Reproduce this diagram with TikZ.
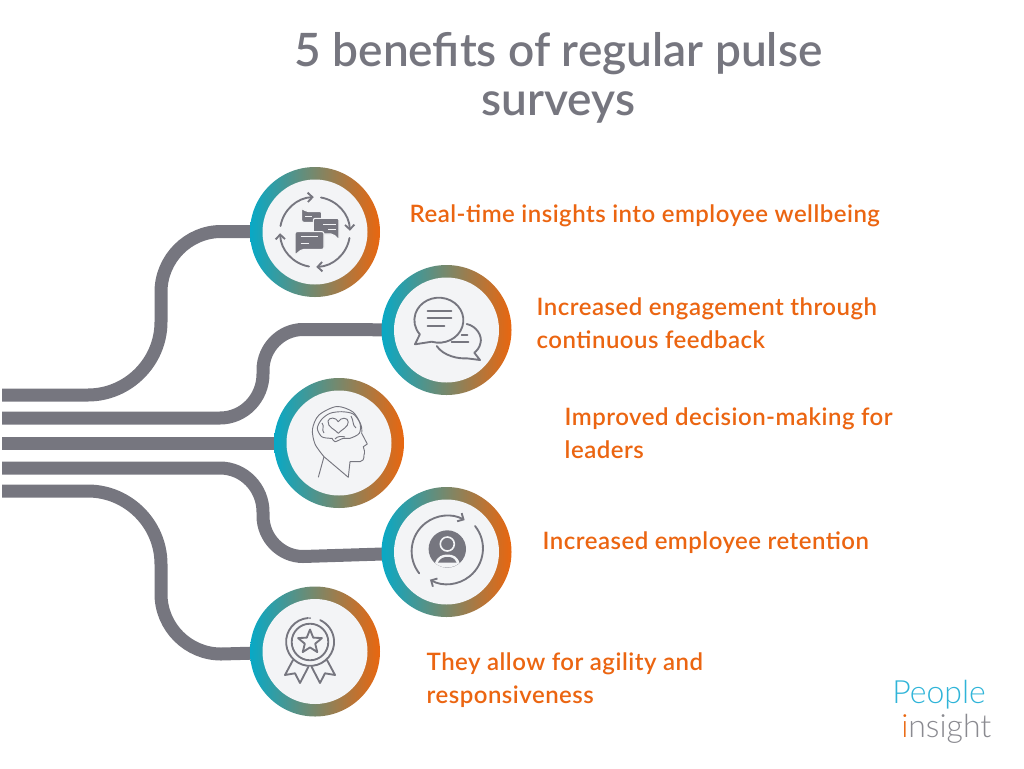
\documentclass[tikz,border=0pt]{standalone}
\usepackage{fontspec}
\usepackage{xcolor}
\usetikzlibrary{arrows.meta,backgrounds}
\setmainfont{Lato}
\newfontfamily\headfont{Lato Semibold}
\newfontfamily\bodyfont[LetterSpace=2]{Lato Semibold}
\newfontfamily\logofont{Lato Light}
\definecolor{pipegrey}{HTML}{76767F}
\definecolor{ringteal}{HTML}{08A9C6}
\definecolor{ringmid}{HTML}{7F8A66}
\definecolor{ringorange}{HTML}{E9660F}
\definecolor{hubgrey}{HTML}{F3F4F6}
\definecolor{labelorange}{HTML}{EB6511}
\definecolor{logoblue}{HTML}{2FB4D8}
\definecolor{logogrey}{HTML}{8A8A90}
\tikzset{
	ring/.style={circle,inner sep=0pt,minimum size=97.5pt,left color=ringteal,middle color=ringmid,right color=ringorange},
	hub/.style={circle,inner sep=0pt,minimum size=78.75pt,fill=hubgrey},
	pipe/.style={draw=pipegrey,line width=9.75pt},
	benefit/.style={anchor=west,align=left,text=labelorange,font=\fontsize{18}{24.75}\selectfont\bodyfont},
	iconline/.style={draw=pipegrey,line width=1.4pt,line cap=round,line join=round},
	iconthin/.style={draw=pipegrey,line width=0.7pt,line join=round},
	iconfill/.style={fill=pipegrey,draw=hubgrey,line width=0.8pt,rounded corners=1.5pt},
	iconcut/.style={draw=hubgrey,line width=1.1pt},
	cycletip/.style={-{Straight Barb[length=3.5pt,width=7pt]}}
}
\begin{document}
\begin{tikzpicture}[x=0.75pt,y=-0.75pt]
	\useasboundingbox (0,0) rectangle (1024,768);
	\node[ring] (ringa) at (315,232) {};
	\node[ring] (ringb) at (446.5,330) {};
	\node[ring] (ringc) at (339,443) {};
	\node[ring] (ringd) at (446.5,552) {};
	\node[ring] (ringe) at (315,651.5) {};
	\node[hub] (huba) at (ringa) {};
	\node[hub] (hubb) at (ringb) {};
	\node[hub] (hubc) at (ringc) {};
	\node[hub] (hubd) at (ringd) {};
	\node[hub] (hube) at (ringe) {};
	\coordinate (ina) at (2,395);
	\coordinate (inb) at (2,418);
	\coordinate (inc) at (2,443);
	\coordinate (ind) at (2,468);
	\coordinate (ine) at (2,491);
	\begin{scope}[on background layer]
		\draw[pipe] (ina)--(88,395) .. controls (128,395) and (161,362) .. (161,322)--(161,292) .. controls (161,259) and (188,231.5) .. (221,231.5)--(ringa.center);
		\draw[pipe] (inb)--(220,418) .. controls (244,418) and (263,398) .. (263,374)--(263,370) .. controls (263,348) and (281,329.5) .. (303,329.5)--(ringb.center);
		\draw[pipe] (inc)--(ringc.center);
		\draw[pipe] (ind)--(220,468) .. controls (244,468) and (263,488) .. (263,512)--(263,516) .. controls (263,538) and (281,556.5) .. (303,556.5)--(ringd.center);
		\draw[pipe] (ine)--(88,491) .. controls (128,491) and (161,524) .. (161,564)--(161,594) .. controls (161,627) and (188,654) .. (221,654)--(ringe.center);
	\end{scope}
	\node[text=pipegrey,align=center,font=\fontsize{34.5}{36.75}\selectfont\headfont] (title) at (558.5,78) {5 benefits of regular pulse\\surveys};
	\node[benefit] (texta) at (405,216) {Real-time insights into employee wellbeing};
	\node[benefit] (textb) at (532,323) {Increased engagement through\\continuous feedback};
	\node[benefit] (textc) at (560,433) {Improved decision-making for\\leaders};
	\node[benefit] (textd) at (538,543) {Increased employee retention};
	\node[benefit] (texte) at (422,680) {They allow for agility and\\responsiveness};
	\begin{scope}[shift={(315,232)}]
		\draw[iconline,cycletip] (-34.5,-6) arc[start angle=190,end angle=268,radius=35];
		\draw[iconline,cycletip] (6,-34.5) arc[start angle=280,end angle=358,radius=35];
		\draw[iconline,cycletip] (34.5,6) arc[start angle=10,end angle=88,radius=35];
		\draw[iconline,cycletip] (-6,34.5) arc[start angle=100,end angle=178,radius=35];
		\path[iconfill] (-13.3,-24)--(-9,-20.5)--(6.7,-20.5)--(6.7,-9.7)--(-13.3,-9.7)--cycle;
		\draw[iconcut] (-10,-15.3)--(-3,-15.3);
		\path[iconfill] (-1.7,-13.7)--(24,-13.7)--(24,8)--(18,2)--(-1.7,2)--cycle;
		\draw[iconcut] (8.3,-7.7)--(20.7,-7.7) (13.3,-2.7)--(20.7,-2.7);
		\path[iconfill] (-20,-0.3)--(9,-0.3)--(9,17.3)--(-13,17.3)--(-20,23)--cycle;
		\draw[iconcut] (-14.3,4.7)--(3.3,4.7) (-14.3,11.3)--(-5.7,11.3);
	\end{scope}
	\begin{scope}[shift={(446.5,330)}]
		\draw[iconline] (-14.8,11.7) arc[start angle=107,delta angle=-326,x radius=24.5,y radius=22.5]--(-31.5,14.3)--cycle;
		\draw[iconline] (-19,-19)--(5,-19) (-19,-11.7)--(5,-11.7) (-19,-4.3)--(-2,-4.3);
		\draw[iconline] (20.2,-6) .. controls (30,-4) and (36,6) .. (34,13) .. controls (33,18) and (30,21) .. (27.8,22.7)--(33.5,30)--(20.2,28.3) .. controls (12,29) and (-3,26) .. (-9.8,16);
		\draw[iconline] (15.2,5)--(21,5) (5.2,12.3)--(22,12.3);
	\end{scope}
	\begin{scope}[shift={(339,443)}]
		\draw[iconthin] (-20.7,34.3)--(-15,13.7) plot[smooth] coordinates {(-15,13.7) (-24,1) (-26.5,-14) (-20,-28) (-2.3,-36.5) (14,-31) (22,-18) (22.7,-9.7)}--(28.3,1)--(24.3,3.7) .. controls (25.5,6) and (26,10) .. (25,12) .. controls (25,16) and (24,18.7) .. (21,18.7)--(11,18.7)--(9.3,34.3)--cycle;
		\draw[iconthin] plot[smooth cycle] coordinates {(-21.7,-14.7) (-17.3,-23.7) (-9,-29.7) (2.7,-31.3) (14.3,-29) (21,-19.7) (20.3,-9.7) (11,-4.7) (4.3,-4.7) (-4,-1.3) (-7,-4.7) (-9,-4.7) (-17.3,-6.3)};
		\draw[iconthin] (-0.7,-9.7) .. controls (-3,-13) and (-12,-16) .. (-11,-22) .. controls (-10,-26) and (-3,-26) .. (-0.7,-21.3) .. controls (2,-26) and (9,-26) .. (9.3,-21) .. controls (9.5,-16) and (2,-13) .. (-0.7,-9.7)--cycle;
		\draw[iconthin] (-17,-20) .. controls (-14,-17) and (-18,-13) .. (-15,-10) (12,-27) .. controls (15,-22) and (13,-18) .. (17,-15) (-4,-4) .. controls (-2,-7) and (3,-7) .. (6,-6);
	\end{scope}
	\begin{scope}[shift={(446.5,552)}]
		\draw[iconline,cycletip] (-27.3,21.3) arc[start angle=142,end angle=299,radius=35.7];
		\draw[iconline,cycletip] (28.5,-26) arc[start angle=-39,end angle=119,radius=35.7];
		\fill[pipegrey] (0.8,-3) circle[radius=18.7];
		\draw[draw=hubgrey,line width=1.2pt] (0.8,-8) circle[radius=7];
		\fill[hubgrey] (-11.5,11) .. controls (-9,4) and (-4,2.5) .. (0.8,2.5) .. controls (6,2.5) and (11,4) .. (13,11) .. controls (6,17) and (-5,17) .. (-11.5,11)--cycle;
		\fill[pipegrey] (-8.5,10.5) .. controls (-6,6) and (-3,5) .. (0.8,5) .. controls (5,5) and (8,6) .. (10,10.5)--cycle;
	\end{scope}
	\begin{scope}[shift={(310,642)}]
		\draw[iconline] (-2,-24) arc[start angle=265,delta angle=-330,radius=24];
		\fill[pipegrey] (0,-24) circle[radius=1];
		\draw[iconline] (0,0) circle[radius=18.3];
		\draw[iconline] (0,-12.5)--(3.2,-4.4)--(11.9,-3.9)--(5.2,1.7)--(7.3,10.1)--(0,5.4)--(-7.3,10.1)--(-5.2,1.7)--(-11.9,-3.9)--(-3.2,-4.4)--cycle;
		\draw[iconline] (-17,18)--(-25,33)--(-15,31.3)--(-10,41)--(-1.7,25);
		\draw[iconline] (17,18)--(25,33)--(15,31.3)--(10,41)--(1.7,25);
	\end{scope}
	\node[anchor=base west,inner sep=0pt,text=logoblue,font=\fontsize{24}{24}\selectfont\logofont] (logotop) at (892,703) {People};
	\node[anchor=base west,inner sep=0pt,text=logogrey,font=\fontsize{24}{24}\selectfont\logofont] (logolow) at (901,737) {\textcolor{ringorange}{i}nsight};
\end{tikzpicture}
\end{document}
